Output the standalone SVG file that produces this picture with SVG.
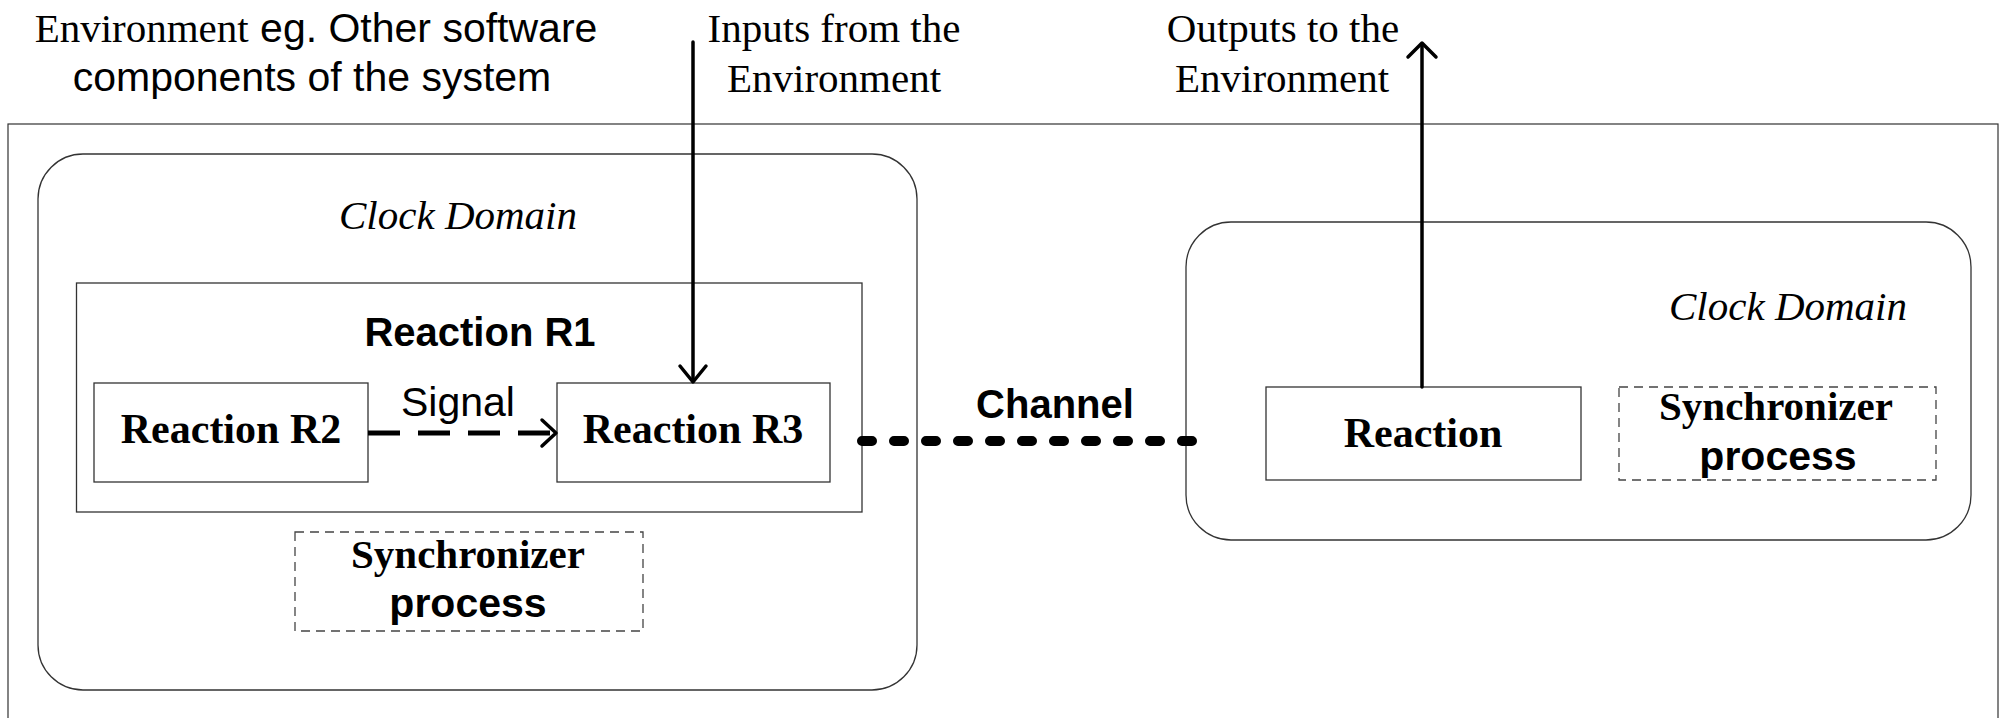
<svg xmlns="http://www.w3.org/2000/svg" width="2002" height="718" viewBox="0 0 2002 718">
<style>
.serif{font-family:"Liberation Serif","Times New Roman",serif;font-size:41px;fill:#000}
.sans{font-family:"Liberation Sans",Arial,sans-serif;font-size:41px;fill:#000}
.b{font-weight:bold}
.i{font-style:italic}
.box{fill:#fff;stroke:#333;stroke-width:1.3}
.dbox{fill:#fff;stroke:#444;stroke-width:1.3;stroke-dasharray:9 6}
.frame{fill:none;stroke:#333;stroke-width:1.2}
.arrow{fill:none;stroke:#000;stroke-width:3.5;stroke-linecap:round;stroke-linejoin:round}
</style>
<rect width="2002" height="718" fill="#fff"/>
<g id="environment">
<rect class="frame" x="8" y="124" width="1990" height="640"/>
<text x="316" y="42" text-anchor="middle"><tspan class="serif">Environment</tspan><tspan class="sans"> eg. Other software</tspan></text>
<text class="sans" x="312" y="91" text-anchor="middle">components of the system</text>
<text class="serif" x="834" y="42" text-anchor="middle">Inputs from the</text>
<text class="serif" x="834" y="92" text-anchor="middle">Environment</text>
<text class="serif" x="1283" y="42" text-anchor="middle">Outputs to the</text>
<text class="serif" x="1282" y="92" text-anchor="middle">Environment</text>
</g>
<g id="clock-domain-left">
<rect class="box" x="38" y="154" width="879" height="536" rx="45" ry="45"/>
<text class="serif i" x="458" y="229" text-anchor="middle">Clock Domain</text>
</g>
<g id="reaction-r1">
<rect class="box" x="76.5" y="283" width="785.5" height="229"/>
<text class="sans b" x="480" y="346" text-anchor="middle" style="font-size:40px">Reaction R1</text>
</g>
<g id="reaction-r2">
<rect class="box" x="94" y="383" width="274" height="99"/>
<text class="serif b" x="231" y="443" text-anchor="middle" style="font-size:42px">Reaction R2</text>
</g>
<g id="reaction-r3">
<rect class="box" x="557" y="383" width="273" height="99"/>
<text class="serif b" x="693" y="443" text-anchor="middle" style="font-size:42px">Reaction R3</text>
</g>
<g id="synchronizer-left">
<rect class="dbox" x="295" y="532" width="348" height="99"/>
<text class="serif b" x="468" y="568" text-anchor="middle">Synchronizer</text>
<text class="sans b" x="468" y="617" text-anchor="middle">process</text>
</g>
<g id="clock-domain-right">
<rect class="box" x="1186" y="222" width="785" height="318" rx="45" ry="45"/>
<text class="serif i" x="1788" y="320" text-anchor="middle">Clock Domain</text>
</g>
<g id="reaction">
<rect class="box" x="1266" y="387" width="315" height="93"/>
<text class="serif b" x="1423" y="447" text-anchor="middle" style="font-size:42px">Reaction</text>
</g>
<g id="synchronizer-right">
<rect class="dbox" x="1619" y="387" width="317" height="93"/>
<text class="serif b" x="1776" y="420" text-anchor="middle">Synchronizer</text>
<text class="sans b" x="1778" y="470" text-anchor="middle">process</text>
</g>
<g id="connectors">
<line x1="693" y1="42" x2="693" y2="381" class="arrow"/>
<polyline points="680,366 693,382 706,366" class="arrow"/>
<line x1="1422" y1="387" x2="1422" y2="45" class="arrow"/>
<polyline points="1408,57 1422,43 1436,57" class="arrow"/>
<line x1="368" y1="433" x2="553" y2="433" stroke="#000" stroke-width="5" stroke-dasharray="32 18"/>
<polyline points="542,420 556,433 542,446" class="arrow"/>
<line x1="862" y1="441" x2="1192" y2="441" stroke="#000" stroke-width="10" stroke-linecap="round" stroke-dasharray="10 22"/>
<text class="sans b" x="1055" y="418" text-anchor="middle" style="font-size:40px">Channel</text>
<text class="sans" x="458" y="416" text-anchor="middle">Signal</text>
</g>
</svg>
